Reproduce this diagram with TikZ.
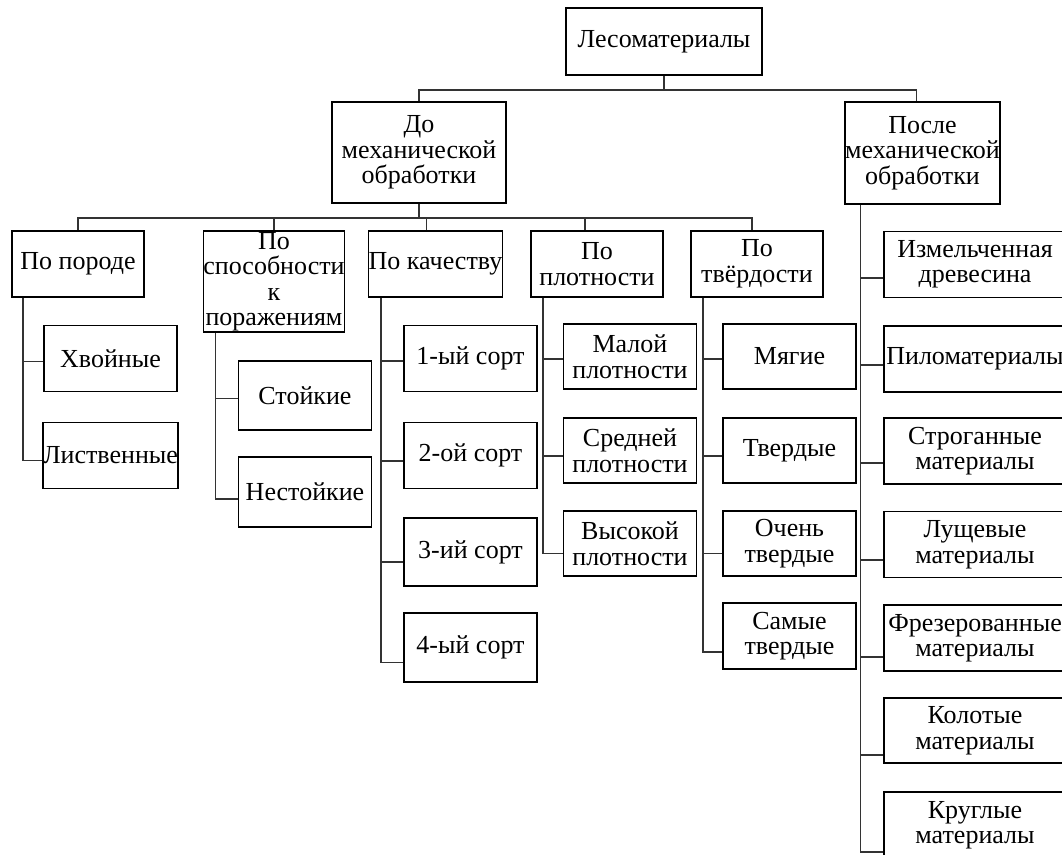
\documentclass[tikz,border=0pt]{standalone}
\usepackage{fontspec}
\setmainfont{Liberation Serif}
\tikzset{bk/.append style={draw, line width=1.5pt, fill=white, align=center, inner sep=0pt, minimum width=133pt, minimum height=66pt, font=\fontsize{26}{25.5}\selectfont}}
\tikzset{cn/.append style={draw=black!80, line width=1.6pt}}

\begin{document}
\begin{tikzpicture}[x=1pt,y=-1pt]
                \useasboundingbox (0,0) rectangle (1062,854);
                \fill[white] (0,0) rectangle (1062,854);
                \clip (0,0) rectangle (1062,854);
                % top levels
                \node[bk,minimum width=196pt,minimum height=67pt] (lm) at (664,41.5) {Лесоматериалы};
                \node[bk,minimum width=174pt,minimum height=101pt] (dm) at (419,152.5) {До\\механической\\обработки};
                \node[bk,minimum width=153pt,minimum height=102pt] (pm) at (922.5,153) {После\\механической\\обработки};
                % criteria
                \node[bk,minimum width=132pt] (por) at (78,264) {По породе};
                \node[bk,minimum width=136pt,minimum height=101pt] (spo) at (274,281.5) {По\\способности\\к\\поражениям};
                \node[bk] (kac) at (435.5,264) {По качеству};
                \node[bk,minimum width=132pt] (plo) at (597,264) {По\\плотности};
                \node[bk,minimum width=132pt] (tve) at (757,264) {По\\твёрдости};
                % leaves
                \node[bk] (hv) at (110.5,358.5) {Хвойные};
                \node[bk] (ls) at (110.5,455.5) {Лиственные};
                \node[bk,minimum height=69pt] (st) at (305,395.5) {Стойкие};
                \node[bk,minimum height=70pt] (ns) at (305,492) {Нестойкие};
                \node[bk] (s1) at (470.5,358.5) {1-ый сорт};
                \node[bk] (s2) at (470.5,455.5) {2-ой сорт};
                \node[bk,minimum height=68pt] (s3) at (470.5,552) {3-ий сорт};
                \node[bk,minimum height=69pt] (s4) at (470.5,647.5) {4-ый сорт};
                \node[bk,minimum height=65pt] (mp) at (630,356.5) {Малой\\плотности};
                \node[bk,minimum height=65pt] (sp) at (630,450.5) {Средней\\плотности};
                \node[bk,minimum height=65pt] (vp) at (630,543.5) {Высокой\\плотности};
                \node[bk,minimum height=65pt] (mg) at (789.5,356.5) {Мягие};
                \node[bk,minimum height=65pt] (tv) at (789.5,450.5) {Твердые};
                \node[bk,minimum height=65pt] (ot) at (789.5,543.5) {Очень\\твердые};
                \node[bk] (sm) at (789.5,636) {Самые\\твердые};
                \node[bk,minimum width=182pt] (iz) at (975,264.5) {Измельченная\\древесина};
                \node[bk,minimum width=182pt] (pi) at (975,359) {Пиломатериалы};
                \node[bk,minimum width=182pt] (sg) at (975,451) {Строганные\\материалы};
                \node[bk,minimum width=182pt] (lu) at (975,544.5) {Лущевые\\материалы};
                \node[bk,minimum width=182pt] (fr) at (975,638) {Фрезерованные\\материалы};
                \node[bk,minimum width=182pt,minimum height=65pt] (ko) at (975,730.5) {Колотые\\материалы};
                \node[bk,minimum width=182pt] (kr) at (975,825) {Круглые\\материалы};
                % connectors
                \draw[cn] (lm.south) -- ++(0,14) -| (dm.north);
                \draw[cn] (lm.south) -- ++(0,14) -| ([xshift=-6pt]pm.north);
                \draw[cn] (dm.south) -- ++(0,14) -| (por.north);
                \draw[cn] (dm.south) -- ++(0,14) -| (spo.north);
                \draw[cn] (dm.south) -- ++(0,14) -| ([xshift=-9pt]kac.north);
                \draw[cn] (dm.south) -- ++(0,14) -| ([xshift=-12pt]plo.north);
                \draw[cn] (dm.south) -- ++(0,14) -| ([xshift=-5pt]tve.north);
                \draw[cn] ([xshift=12pt]por.south west) |- ([yshift=-3pt]hv.west);
                \draw[cn] ([xshift=12pt]por.south west) |- ([yshift=-5pt]ls.west);
                \draw[cn] ([xshift=13pt]spo.south west) |- ([yshift=-3pt]st.west);
                \draw[cn] ([xshift=13pt]spo.south west) |- ([yshift=-7pt]ns.west);
                \draw[cn] ([xshift=13pt]kac.south west) |- ([yshift=-2.5pt]s1.west);
                \draw[cn] ([xshift=13pt]kac.south west) |- ([yshift=-5.5pt]s2.west);
                \draw[cn] ([xshift=13pt]kac.south west) |- ([yshift=-10pt]s3.west);
                \draw[cn] ([xshift=13pt]kac.south west) |- ([yshift=-15pt]s4.west);
                \draw[cn] ([xshift=13pt]plo.south west) |- ([yshift=-2.5pt]mp.west);
                \draw[cn] ([xshift=13pt]plo.south west) |- ([yshift=-5.5pt]sp.west);
                \draw[cn] ([xshift=13pt]plo.south west) |- ([yshift=-10pt]vp.west);
                \draw[cn] ([xshift=13pt]tve.south west) |- ([yshift=-2.5pt]mg.west);
                \draw[cn] ([xshift=13pt]tve.south west) |- ([yshift=-5.5pt]tv.west);
                \draw[cn] ([xshift=13pt]tve.south west) |- ([yshift=-10pt]ot.west);
                \draw[cn] ([xshift=13pt]tve.south west) |- ([yshift=-16pt]sm.west);
                \draw[cn] ([xshift=16pt]pm.south west) |- ([yshift=-13.5pt]iz.west);
                \draw[cn] ([xshift=16pt]pm.south west) |- ([yshift=-6pt]pi.west);
                \draw[cn] ([xshift=16pt]pm.south west) |- ([yshift=-12pt]sg.west);
                \draw[cn] ([xshift=16pt]pm.south west) |- ([yshift=-15.5pt]lu.west);
                \draw[cn] ([xshift=16pt]pm.south west) |- ([yshift=-19pt]fr.west);
                \draw[cn] ([xshift=16pt]pm.south west) |- ([yshift=-24.5pt]ko.west);
                \draw[cn] ([xshift=16pt]pm.south west) |- ([yshift=-27pt]kr.west);
            \end{tikzpicture}
\end{document}
